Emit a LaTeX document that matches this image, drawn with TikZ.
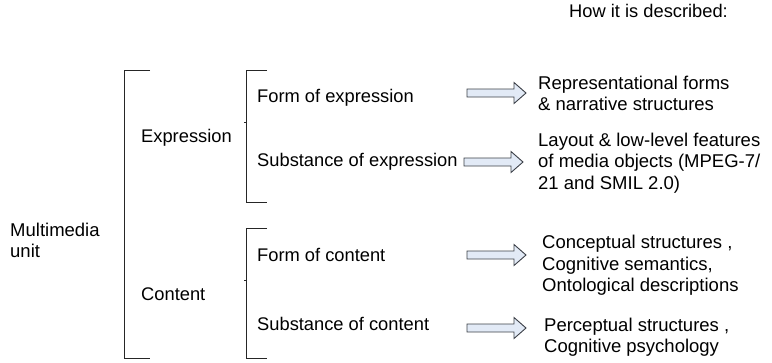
\documentclass[tikz,border=0pt]{standalone}
\usepackage{fontspec}
\setmainfont{Liberation Sans}
\definecolor{arrowfill}{RGB}{226,234,246}
\definecolor{arrowline}{RGB}{60,64,72}
\begin{document}
\begin{tikzpicture}[x=1pt,y=-1pt,
  lbl/.style={anchor=west,inner sep=0pt,font=\fontsize{18.3}{21.5}\selectfont,text height=13pt,text depth=4pt},
  desc/.style={anchor=west,inner sep=0pt,align=left,font=\fontsize{18.5}{21.5}\selectfont},
  brk/.style={draw=black!85,line width=0.9pt},
  blockarrow/.style={draw=arrowline,line width=0.9pt,fill=arrowfill,line join=miter}]
\useasboundingbox (0,0) rectangle (772,362);

% heading
\node[lbl] (how) at (569,13) {How it is described:};

% whole unit
\node[desc] (unit) at (10,240.5) {Multimedia\\unit};
\draw[brk] (150,70) -- (124,70) -- (124,358) -- (150,358);

% first level
\node[lbl] (expr) at (141,138) {Expression};
\node[lbl] (cont) at (141,296) {Content};
\draw[brk] (267,70) -- (246,70) -- (246,202) -- (267,202);
\draw[brk] (246,122) -- (244,122);
\draw[brk] (267,228) -- (246,228) -- (246,358) -- (267,358);
\draw[brk] (246,280) -- (244,280);

% second level
\node[lbl] (fexp) at (257,98) {Form of expression};
\node[lbl] (sexp) at (257,162) {Substance of expression};
\node[lbl] (fcon) at (257,257) {Form of content};
\node[lbl] (scon) at (257,326) {Substance of content};

% descriptions
\node[desc] (dfexp) at (538,93.5) {Representational forms\\\& narrative structures};
\node[desc] (dsexp) at (538,163) {Layout \& low-level features\\of media objects (MPEG-7/\\21 and SMIL 2.0)};
\node[desc] (dfcon) at (542,265.5) {Conceptual structures ,\\Cognitive semantics,\\Ontological descriptions};
\node[desc] (dscon) at (544,337) {Perceptual structures ,\\Cognitive psychology};

% block arrows: tail x, centre y, shaft length
\foreach \xa/\ya/\len in {467/93/47, 464/162/47, 467/255/47, 467/328/47}{
  \draw[blockarrow] (\xa,\ya-4) -- (\xa+\len,\ya-4) -- (\xa+\len,\ya-10.5) -- (\xa+\len+12,\ya)
    -- (\xa+\len,\ya+10.5) -- (\xa+\len,\ya+4) -- (\xa,\ya+4) -- cycle;
}
\end{tikzpicture}
\end{document}
